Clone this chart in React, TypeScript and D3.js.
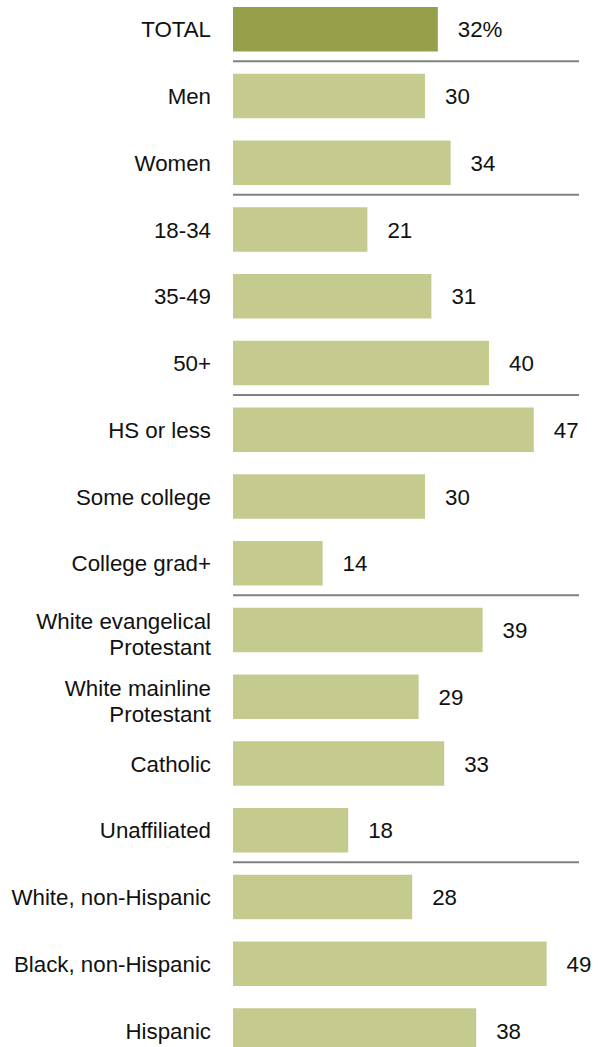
import React from "react";
import * as d3 from "d3";

const categories = [
  "TOTAL",
  "Men",
  "Women",
  "18-34",
  "35-49",
  "50+",
  "HS or less",
  "Some college",
  "College grad+",
  "White evangelical\nProtestant",
  "White mainline\nProtestant",
  "Catholic",
  "Unaffiliated",
  "White, non-Hispanic",
  "Black, non-Hispanic",
  "Hispanic",
];
const values = [32, 30, 34, 21, 31, 40, 47, 30, 14, 39, 29, 33, 18, 28, 49, 38];
const valueLabels = ["32%", "30", "34", "21", "31", "40", "47", "30", "14", "39", "29", "33", "18", "28", "49", "38"];
const groupEnds = ["TOTAL", "Women", "50+", "College grad+", "Unaffiliated"];

const W = 600;
const H = 1047;
const FONT = "'Liberation Sans', Arial, sans-serif";

export default function App() {
  const step = 66.75;
  const y = d3
    .scaleBand<string>()
    .domain(categories)
    .range([7 - step / 6, 7 - step / 6 + step * categories.length])
    .paddingInner(1 / 3)
    .paddingOuter(1 / 6);
  const x = d3.scaleLinear().domain([0, 50]).range([233, 553]);
  const bw = y.bandwidth();
  const fs = 22.3;

  return (
    <svg
      width={W}
      height={H}
      style={{ position: "absolute", left: 0, top: 0, background: "#fff" }}
      fontFamily={FONT}
    >
      {categories.map((c, i) => {
        const y0 = y(c) as number;
        const cy = y0 + bw / 2;
        const lines = c.split("\n");
        const lh = 26.5;
        const top = lines.length > 1 ? cy - ((lines.length - 1) * lh) / 2 + 4 : cy;
        return (
          <g key={c}>
            <rect
              x={x(0)}
              y={y0}
              width={x(values[i]) - x(0)}
              height={bw}
              fill={i === 0 ? "#969f4a" : "#c5cb8e"}
            />
            <text x={211} y={top} textAnchor="end" fontSize={fs} fill="#111">
              {lines.map((l, j) => (
                <tspan key={j} x={211} dy={j === 0 ? "0.36em" : lh}>
                  {l}
                </tspan>
              ))}
            </text>
            <text
              x={x(values[i]) + 20}
              y={cy}
              dy="0.36em"
              fontSize={fs}
              fill="#111"
            >
              {valueLabels[i]}
            </text>
          </g>
        );
      })}
      {groupEnds.map((g) => {
        const idx = categories.indexOf(g);
        const yb = (y(categories[idx]) as number) + bw;
        const yn = y(categories[idx + 1]) as number;
        const ly = (yb + yn) / 2 - 1.5;
        return (
          <line
            key={g}
            x1={x(0)}
            x2={579}
            y1={ly}
            y2={ly}
            stroke="#808080"
            strokeWidth={2}
          />
        );
      })}
    </svg>
  );
}
